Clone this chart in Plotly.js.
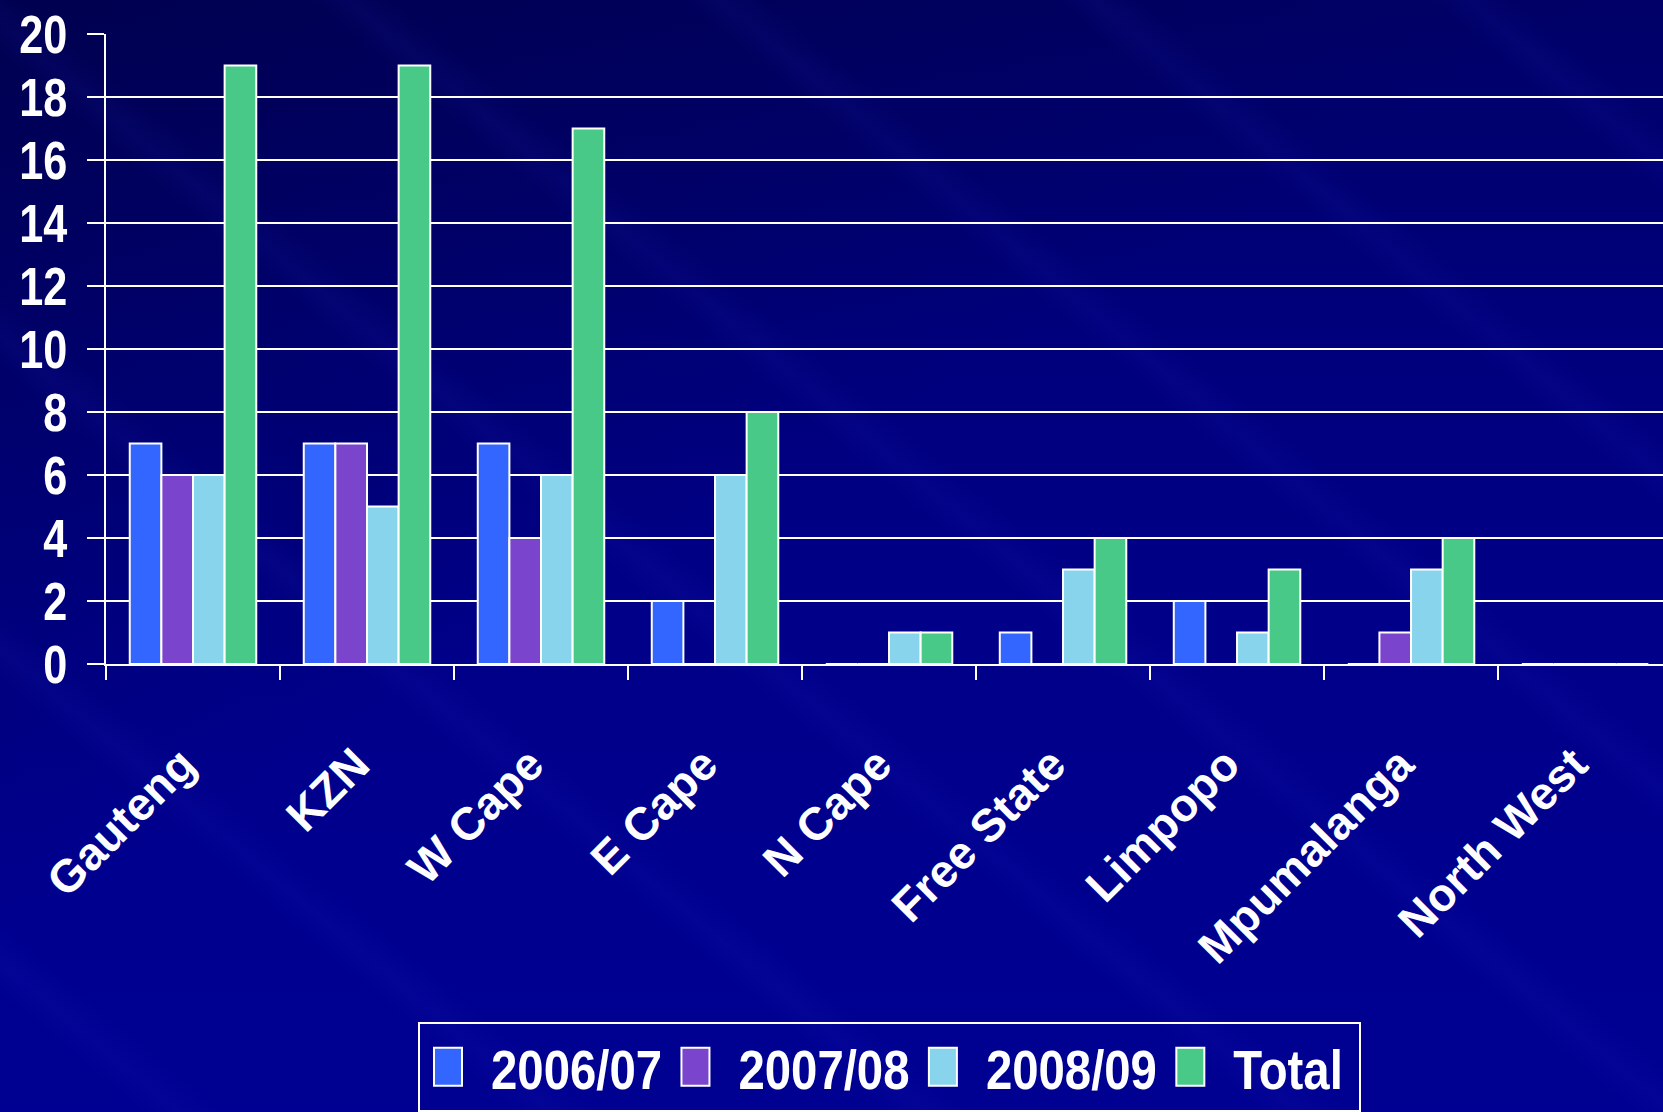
<!DOCTYPE html>
<html>
<head>
<meta charset="utf-8">
<script src="https://cdn.plot.ly/plotly-3.0.1.min.js"></script>
<style>
  html, body { margin: 0; padding: 0; }
  body {
    width: 1663px; height: 1112px; overflow: hidden;
    background:
      repeating-linear-gradient(40deg, rgba(40,40,200,0) 0px, rgba(40,40,200,0) 90px, rgba(40,40,200,0.09) 115px, rgba(40,40,200,0) 145px, rgba(40,40,200,0) 240px),
      linear-gradient(150deg, rgba(0,0,35,0.35) 0%, rgba(0,0,35,0) 45%),
      linear-gradient(to bottom, #000068 0%, #00007c 30%, #000088 55%, #00008e 75%, #000092 100%);
  }
  #chart { width: 1663px; height: 1112px; }
</style>
</head>
<body>
<div id="chart"></div>
<script>
const categories = ["Gauteng", "KZN", "W Cape", "E Cape", "N Cape", "Free State", "Limpopo", "Mpumalanga", "North West"];
const seriesNames = ["2006/07", "2007/08", "2008/09", "Total"];
const v2006 = [7, 7, 7, 2, 0, 1, 2, 0, 0];
const v2007 = [6, 7, 4, 0, 0, 0, 0, 1, 0];
const v2008 = [6, 5, 6, 6, 1, 3, 1, 3, 0];
const vTotal = [19, 19, 17, 8, 1, 4, 3, 4, 0];
const yTicks = [0, 2, 4, 6, 8, 10, 12, 14, 16, 18, 20];
const colors = ["#3366ff", "#7b44cc", "#88d4ec", "#48c987"];

const seriesValues = [v2006, v2007, v2008, vTotal];
const traces = seriesValues.map((vals, i) => ({
  type: "bar",
  name: seriesNames[i],
  x: categories,
  y: vals,
  marker: { color: colors[i], line: { color: "#ffffff", width: 2 } },
  hoverinfo: "x+y+name"
}));

const boldSans = "'Liberation Sans', Arial, sans-serif";
const layout = {
  width: 1663,
  height: 1112,
  margin: { l: 106, r: 0, t: 34, b: 448 },
  paper_bgcolor: "rgba(0,0,0,0)",
  plot_bgcolor: "rgba(0,0,0,0)",
  barmode: "group",
  bargap: 0.273,
  bargroupgap: 0,
  showlegend: true,
  legend: {
    orientation: "h",
    x: 0.2004, xanchor: "left",
    y: -0.568, yanchor: "top",
    bgcolor: "rgba(0,0,0,0)",
    bordercolor: "#ffffff",
    borderwidth: 2,
    font: { family: boldSans, size: 56, color: "#ffffff", weight: 700 },
    itemwidth: 30,
    traceorder: "normal"
  },
  xaxis: {
    type: "category",
    range: [-0.5, 8.448],
    showline: true, linecolor: "#ffffff", linewidth: 2,
    ticks: "outside", tickson: "boundaries", ticklen: 14, tickwidth: 2, tickcolor: "#ffffff",
    tickangle: -45,
    ticklabelstandoff: 53,
    ticklabelshift: -11,
    tickfont: { family: boldSans, size: 46, color: "#ffffff", weight: 700 },
    showgrid: false,
    zeroline: false,
    fixedrange: true
  },
  yaxis: {
    range: [0, 20],
    tickvals: yTicks,
    ticktext: yTicks.map(String),
    showline: true, linecolor: "#ffffff", linewidth: 2,
    ticks: "outside", ticklen: 17, tickwidth: 2, tickcolor: "#ffffff",
    ticklabelstandoff: 9,
    tickfont: { family: boldSans, size: 54, color: "#ffffff", weight: 700 },
    showgrid: true, gridcolor: "#ffffff", gridwidth: 2,
    zeroline: false,
    fixedrange: true
  }
};

function condense(sel, factor, shift) {
  document.querySelectorAll(sel).forEach(t => {
    const x = parseFloat(t.getAttribute("x") || "0");
    const prev = t.getAttribute("data-orig-transform");
    const base = prev !== null ? prev : (t.getAttribute("transform") || "");
    t.setAttribute("data-orig-transform", base);
    t.setAttribute("transform", base + " translate(" + (x + shift) + ",0) scale(" + factor + ",1) translate(" + (-x) + ",0)");
  });
}

Plotly.newPlot("chart", traces, layout, { displayModeBar: false, staticPlot: true }).then(() => {
  condense("#chart .ytick text", 0.80, 0);
  condense("#chart .legendtext", 0.845, 31);
  document.querySelectorAll("#chart .legend .legendpoints path").forEach(p => {
    p.setAttribute("d", "M14,19H-14V-19H14Z");
    p.setAttribute("transform", "translate(28,0)");
    p.style.strokeWidth = "2px";
    p.style.stroke = "#ffffff";
  });
  const extra = 22;
  document.querySelectorAll("#chart .legend rect.bg").forEach(r => {
    r.setAttribute("width", parseFloat(r.getAttribute("width")) + extra);
  });
  document.querySelectorAll("#chart defs clipPath[id^='legend'] rect").forEach(r => {
    r.setAttribute("width", parseFloat(r.getAttribute("width")) + extra);
  });
});
</script>
</body>
</html>
